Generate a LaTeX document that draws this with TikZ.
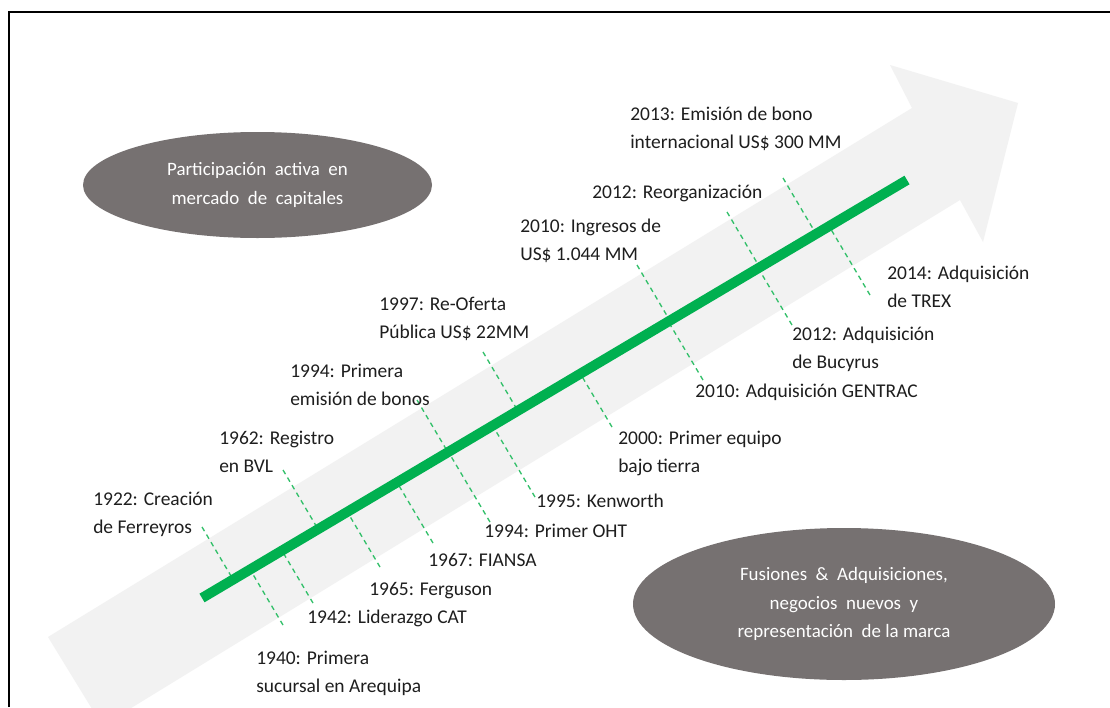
\documentclass[tikz,border=0pt]{standalone}
\usepackage{fontspec}
\setmainfont{Carlito}
\usetikzlibrary{calc,shapes.geometric}
\definecolor{arrowgray}{HTML}{F2F2F2}
\definecolor{ovalgray}{HTML}{767171}
\definecolor{linegreen}{HTML}{00B050}
\definecolor{tickgreen}{HTML}{33C06A}
\definecolor{txt}{HTML}{1E1E1E}
\begin{document}
\begin{tikzpicture}[x=0.75pt,y=-0.75pt,
  lbl/.style={anchor=base west, inner sep=0pt, align=left, text=txt,
    font=\fontsize{14.6}{20.6}\selectfont},
  oval/.style={ellipse, fill=ovalgray, inner sep=0pt, text=white, align=center,
    font=\fontsize{14.2}{21.5}\selectfont},
  mainline/.style={draw=linegreen, line width=7.5pt},
  tick/.style={draw=tickgreen, line width=1pt, dash pattern=on 3.6pt off 3pt},
  frameline/.style={draw=black, line width=1.3pt}]
\useasboundingbox (0,0) rectangle (1110,707);
\fill[white] (0,0) rectangle (1110,707);
% frame
\draw[frameline] (9,707) -- (9,12) -- (1110,12);
% big gray arrow
\begin{scope}
\clip (10,13) rectangle (1110,707);
\fill[arrowgray] (48,637) -- (912,108) -- (890,65) -- (1018,103) -- (983,242)
  -- (960,200) -- (102.3,725.7) -- cycle;
\end{scope}
% ovals
\node[oval, minimum width=261.75pt, minimum height=79.5pt] (capital) at (257.5,185)
  {Participación\ \ activa\ \ en\\mercado\ \ de\ \ capitales};
\node[oval, minimum width=316.5pt, minimum height=114pt] (fusiones) at (844,604)
  {Fusiones\ \ \&\ \ Adquisiciones,\\negocios\ \ nuevos\ \ y\\representación\ \ de\ la\ marca};
% timeline
\coordinate (ls) at (202,598);
\coordinate (le) at (907,180);
% tick far ends
\coordinate (k1922) at (202,527);
\coordinate (k1940) at (283,625);
\coordinate (k1942) at (313,603);
\coordinate (k1962) at (283,470);
\coordinate (k1965) at (380,567);
\coordinate (k1967) at (433,543);
\coordinate (k1994a) at (417,400);
\coordinate (k1994b) at (490,522);
\coordinate (k1995) at (535,497);
\coordinate (k1997) at (483,352);
\coordinate (k2000) at (612,427);
\coordinate (k2010a) at (637,265);
\coordinate (k2010b) at (703,380);
\coordinate (k2012a) at (727,212);
\coordinate (k2012b) at (792,325);
\coordinate (k2013) at (783,178);
\coordinate (k2014) at (870,295);
\foreach \k in {k1922,k1940,k1942,k1962,k1965,k1967,k1994a,k1994b,k1995,k1997,
  k2000,k2010a,k2010b,k2012a,k2012b,k2013,k2014}
  \draw[tick] (\k) -- ($(ls)!(\k)!(le)$);
\draw[mainline] (ls) -- (le);
% labels (multi-line: anchored at last line's baseline)
\node[lbl] (l1922) at (93,533) {1922: Creación\\de Ferreyros};
\node[lbl] (l1940) at (256,692) {1940: Primera\\sucursal en Arequipa};
\node[lbl] (l1942) at (307,623) {1942: Liderazgo CAT};
\node[lbl] (l1962) at (219,472) {1962: Registro\\en BVL};
\node[lbl] (l1965) at (369,595) {1965: Ferguson};
\node[lbl] (l1967) at (428,566) {1967: FIANSA};
\node[lbl] (l1994a) at (290,405) {1994: Primera\\emisión de bonos};
\node[lbl] (l1994b) at (484,537) {1994: Primer OHT};
\node[lbl] (l1995) at (536,507) {1995: Kenworth};
\node[lbl] (l1997) at (379,338) {1997: Re-Oferta\\Pública US\$ 22MM};
\node[lbl] (l2000) at (618,472) {2000: Primer equipo\\bajo tierra};
\node[lbl] (l2010a) at (520,260) {2010: Ingresos de\\US\$ 1.044 MM};
\node[lbl] (l2010b) at (695,397) {2010: Adquisición GENTRAC};
\node[lbl] (l2012a) at (592,198) {2012: Reorganización};
\node[lbl] (l2012b) at (792,368) {2012: Adquisición\\de Bucyrus};
\node[lbl] (l2013) at (630,148) {2013: Emisión de bono\\internacional US\$ 300 MM};
\node[lbl] (l2014) at (887,307) {2014: Adquisición\\de TREX};
\end{tikzpicture}
\end{document}
